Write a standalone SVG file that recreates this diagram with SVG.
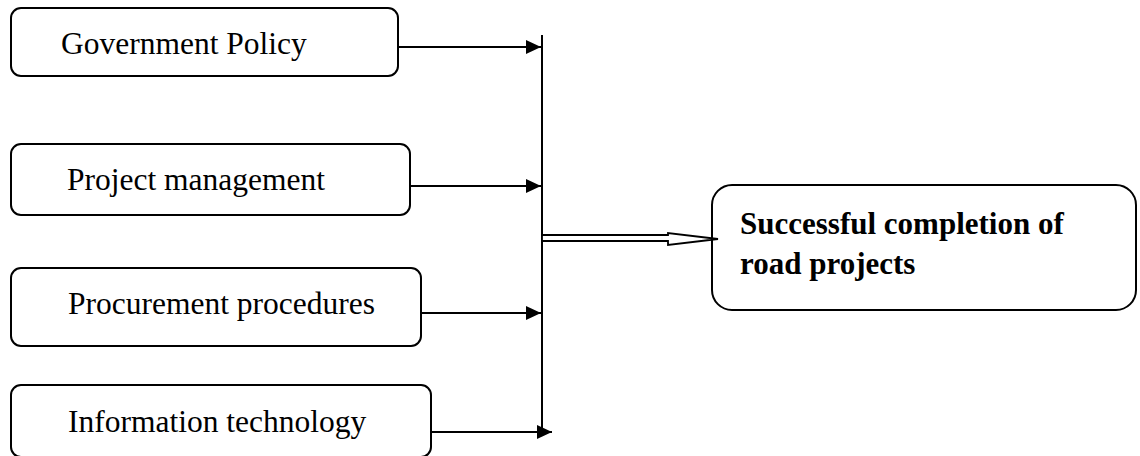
<svg xmlns="http://www.w3.org/2000/svg" width="1140" height="456" viewBox="0 0 1140 456">
<defs>
<style>
.box{fill:#fff;stroke:#000;stroke-width:2}
.t{font-family:"Liberation Serif","Times New Roman",serif;font-size:31.5px;fill:#000}
.b{font-family:"Liberation Serif","Times New Roman",serif;font-size:31px;font-weight:bold;fill:#000}
.ln{stroke:#000;stroke-width:2;fill:none}
</style>
<marker id="ah" markerWidth="15" markerHeight="14" refX="15" refY="7" orient="auto" markerUnits="userSpaceOnUse">
<path d="M0,0 L15,7 L0,14 Z" fill="#000"/>
</marker>
</defs>
<rect width="1140" height="456" fill="#fff"/>
<g id="n1"><rect class="box" x="11" y="8" width="387" height="68" rx="10"/><text class="t" x="61" y="54">Government Policy</text></g>
<g id="n2"><rect class="box" x="11" y="144" width="399" height="71" rx="10"/><text class="t" x="67" y="190">Project management</text></g>
<g id="n3"><rect class="box" x="11" y="268" width="410" height="78" rx="10"/><text class="t" x="68" y="314">Procurement procedures</text></g>
<g id="n4"><rect class="box" x="11" y="385" width="420" height="72" rx="10"/><text class="t" x="68" y="432">Information technology</text></g>
<g id="n5"><rect class="box" x="712" y="185" width="424" height="125" rx="20"/><text class="b" x="740" y="234">Successful completion of</text><text class="b" x="740" y="274">road projects</text></g>
<g id="connectors">
<line class="ln" x1="542" y1="35" x2="542" y2="428"/>
<line class="ln" x1="398" y1="47" x2="541" y2="47" marker-end="url(#ah)"/>
<line class="ln" x1="410" y1="186" x2="541" y2="186" marker-end="url(#ah)"/>
<line class="ln" x1="421" y1="313" x2="541" y2="313" marker-end="url(#ah)"/>
<line class="ln" x1="431" y1="432" x2="552" y2="432" marker-end="url(#ah)"/>
<path d="M542,235 L668,235 L668,233 L718,239 L668,245 L668,241 L542,241 Z" fill="#fff" stroke="#000" stroke-width="1.8" stroke-linejoin="miter"/>
</g>
</svg>
